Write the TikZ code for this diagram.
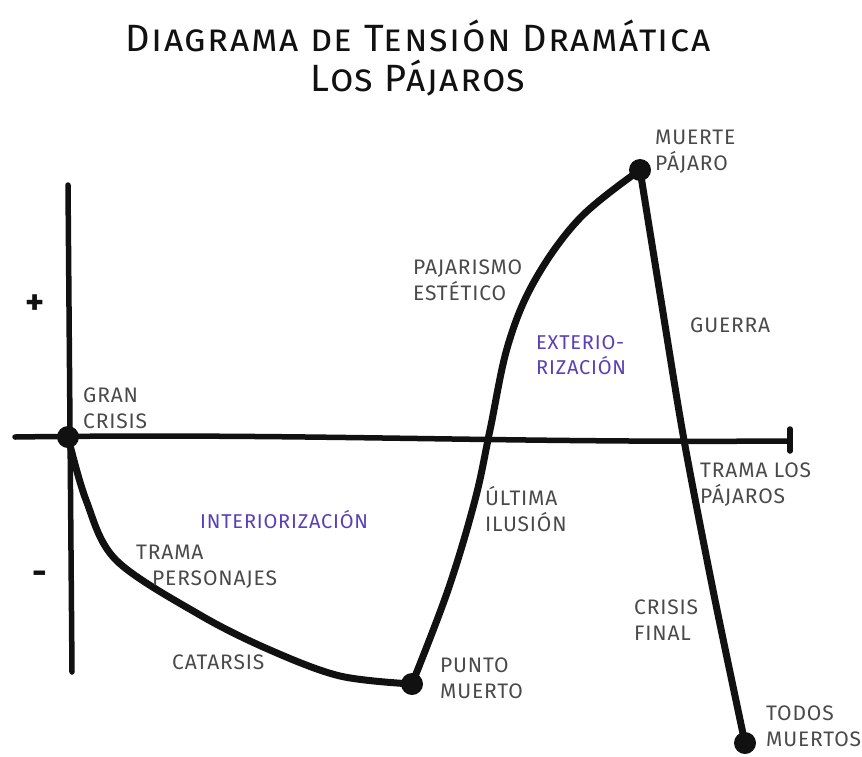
\documentclass[tikz,border=0pt]{standalone}
\usepackage{fontspec}
\setmainfont{Fira Sans}
\usepackage{tikz}
\usepackage{xcolor}
\definecolor{TDInk}{HTML}{111111}
\definecolor{TDPencil}{HTML}{4A4A4A}
\definecolor{TDViolet}{HTML}{5A3FB8}
\begin{document}
\begin{tikzpicture}[
    x=1pt,y=-1pt,
    curve/.style={line width=7pt,draw=TDInk,line cap=round,line join=round},
    axis/.style={line width=5.5pt,draw=TDInk,line cap=round},
    dot/.style={circle,fill=TDInk,inner sep=0pt,minimum size=22pt},
    note/.style={anchor=north west,inner sep=0pt,align=left,text=TDPencil,
      font=\fontsize{21}{26}\selectfont\addfontfeatures{LetterSpace=4}},
    phase/.style={anchor=north west,inner sep=0pt,align=left,text=TDViolet,
      font=\fontsize{20}{25}\selectfont\addfontfeatures{LetterSpace=4}},
    sign/.style={text=TDInk,font=\fontsize{36}{36}\selectfont\bfseries}
  ]
    \useasboundingbox[fill=white] (0,0) rectangle (862,756);
    % title
    \node[font=\fontsize{38}{40}\selectfont\scshape\addfontfeatures{LetterSpace=4},
      text=TDInk,align=center] (title) at (418,58)
      {Diagrama de Tensión Dramática\\Los Pájaros};
    % axes
    \coordinate (ytop) at (68,185);
    \coordinate (ybot) at (72,672);
    \coordinate (xleft) at (15,437);
    \coordinate (xright) at (790,441);
    \draw[axis] (ytop) -- (ybot);
    \draw[axis] (xleft) .. controls (300,433) and (500,443) .. (xright);
    \draw[axis] ([yshift=-10]xright) -- ([yshift=12]xright);
    \node[sign] (plus) at (35,305) {+};
    \node[sign] (minus) at (40,578) {-};
    % key points
    \node[dot] (gran) at (68,437) {};
    \node[dot] (punto) at (412,684) {};
    \node[dot] (muerte) at (640,170) {};
    \node[dot] (todos) at (745,743) {};
    % tension curve
    \draw[curve] plot[smooth,tension=0.55] coordinates
      {(gran.center) (86,500) (116,560) (200,615) (270,650) (340,676) (punto.center)};
    \draw[curve] plot[smooth,tension=0.6] coordinates
      {(punto.center) (448,590) (475,500) (490,430) (508,345) (535,280) (580,218) (640,170)};
    \draw[curve] plot[smooth,tension=0.5] coordinates
      {(muerte.center) (661,300) (684,440) (714,595) (todos.center)};
    % labels
    \node[note] (lgran) at (83,388) {GRAN\\CRISIS};
    \node[note] (lmuerte) at (655,130) {MUERTE\\PÁJARO};
    \node[note] (lpajar) at (413,260) {PAJARISMO\\ESTÉTICO};
    \node[phase] (lexter) at (536,335) {EXTERIO-\\RIZACIÓN};
    \node[note] (lguerra) at (690,318) {GUERRA};
    \node[note] (ltrama) at (700,463) {TRAMA LOS\\PÁJAROS};
    \node[note] (lultima) at (485,486) {ÚLTIMA\\ILUSIÓN};
    \node[phase] (linter) at (200,510) {INTERIORIZACIÓN};
    \node[note] (lperson) at (136,545) {TRAMA\\\hspace*{16pt}PERSONAJES};
    \node[note] (lcatar) at (172,655) {CATARSIS};
    \node[note] (lpunto) at (440,658) {PUNTO\\MUERTO};
    \node[note] (lfinal) at (634,600) {CRISIS\\FINAL};
    \node[note] (ltodos) at (766,706) {TODOS\\MUERTOS};
  \end{tikzpicture}
\end{document}
